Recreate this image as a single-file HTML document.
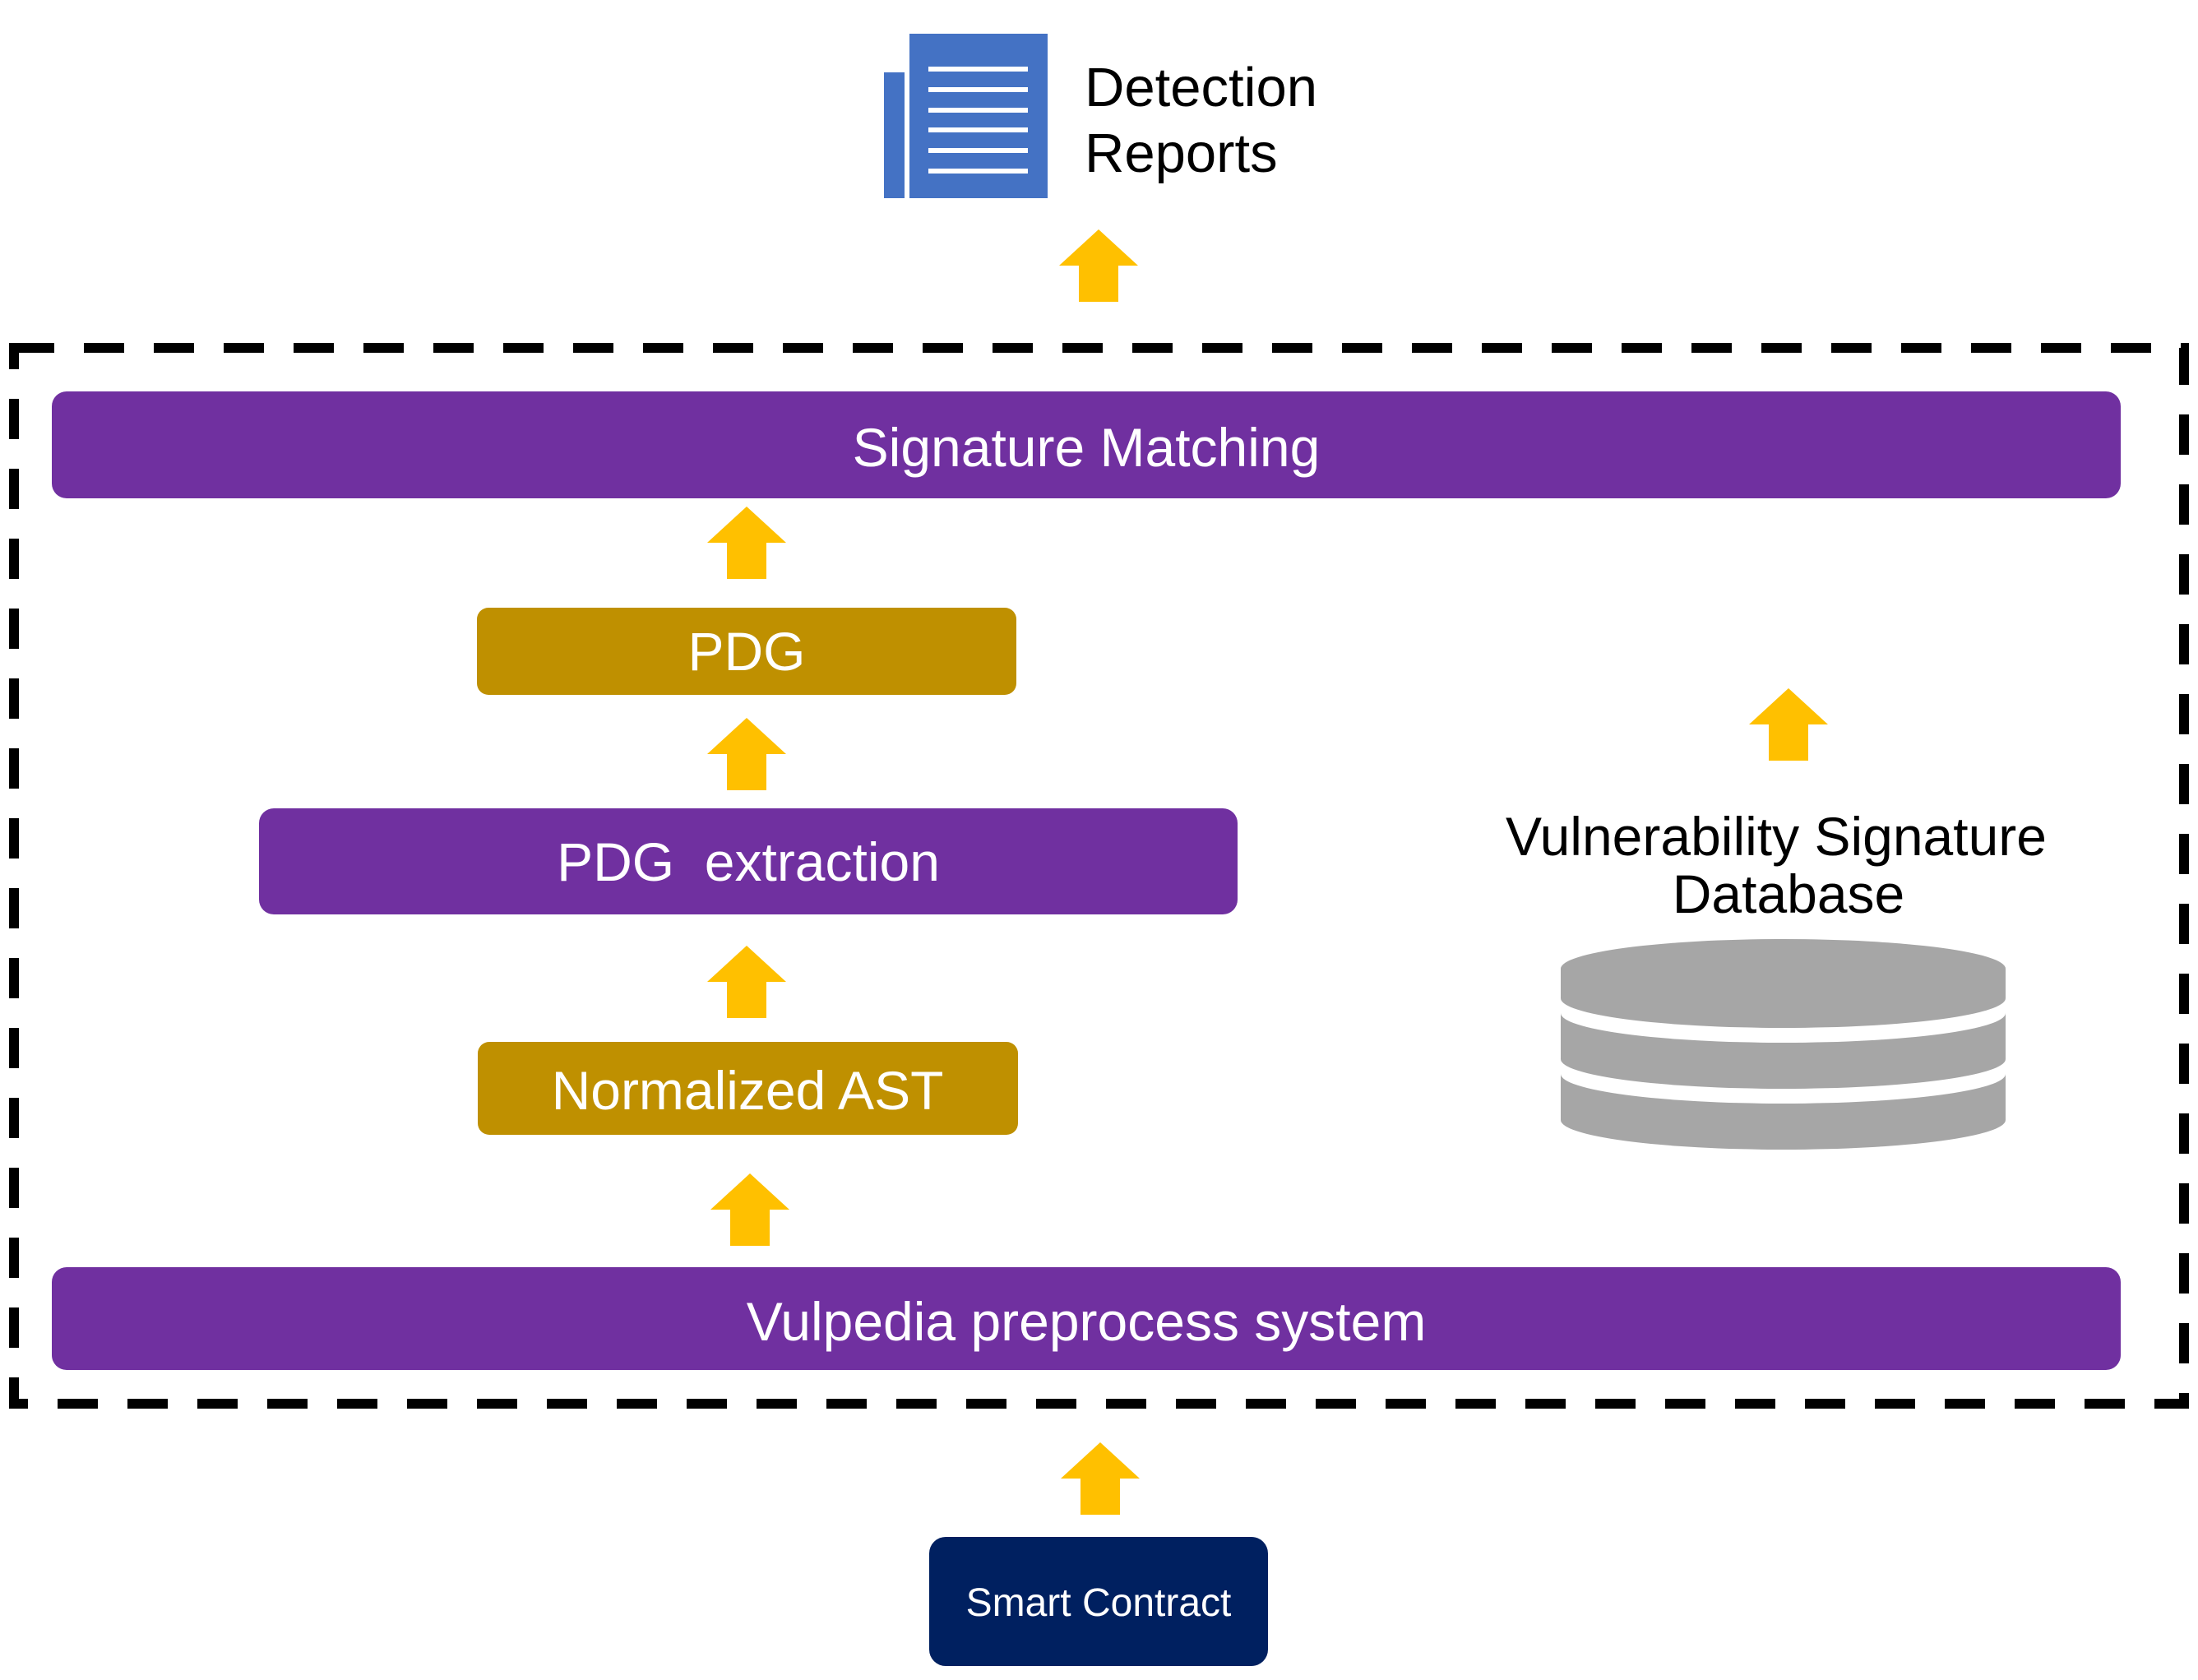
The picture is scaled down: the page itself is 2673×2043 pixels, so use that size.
<!DOCTYPE html>
<html><head><meta charset="utf-8"><style>
html,body{margin:0;padding:0;background:#fff;}
svg{display:block;}
text{font-family:"Liberation Sans",Arial,sans-serif;}
</style></head><body>
<svg width="2673" height="2043" viewBox="0 0 2673 2043" xmlns="http://www.w3.org/2000/svg">
<defs>
<path id="arr" d="M0 0 L48 44 L24 44 L24 88 L-24 88 L-24 44 L-48 44 Z" fill="#ffc000"/>
</defs>
<!-- document icon -->
<rect x="1075" y="88" width="25" height="153" fill="#4472c4"/>
<rect x="1106" y="41" width="168" height="200" fill="#4472c4"/>
<g fill="#fff">
<rect x="1129" y="81" width="121" height="6"/>
<rect x="1129" y="106" width="121" height="6"/>
<rect x="1129" y="131" width="121" height="6"/>
<rect x="1129" y="155" width="121" height="6"/>
<rect x="1129" y="180" width="121" height="6"/>
<rect x="1129" y="205" width="121" height="6"/>
</g>
<text x="1319" y="129" font-size="67" fill="#000">Detection</text>
<text x="1319" y="209" font-size="67" fill="#000">Reports</text>

<!-- dashed box -->
<rect x="17" y="423" width="2639" height="1284" fill="none" stroke="#000" stroke-width="12" stroke-dasharray="49 36"/>

<!-- boxes -->
<rect x="63" y="476" width="2516" height="130" rx="18" fill="#7030a0"/>
<text x="1321" y="567" font-size="66" fill="#fff" text-anchor="middle">Signature Matching</text>

<rect x="580" y="739" width="656" height="106" rx="14" fill="#bf9000"/>
<text x="908" y="815" font-size="66" fill="#fff" text-anchor="middle">PDG</text>

<rect x="315" y="983" width="1190" height="129" rx="18" fill="#7030a0"/>
<text x="910" y="1071" font-size="66" fill="#fff" text-anchor="middle" xml:space="preserve">PDG  extraction</text>

<rect x="581" y="1267" width="657" height="113" rx="14" fill="#bf9000"/>
<text x="909" y="1349" font-size="66" fill="#fff" text-anchor="middle">Normalized AST</text>

<rect x="63" y="1541" width="2516" height="125" rx="18" fill="#7030a0"/>
<text x="1321" y="1630" font-size="66" fill="#fff" text-anchor="middle">Vulpedia preprocess system</text>

<rect x="1130" y="1869" width="412" height="157" rx="20" fill="#002060"/>
<text x="1336" y="1965" font-size="48" fill="#fff" text-anchor="middle">Smart Contract</text>

<!-- database -->
<text x="2160" y="1040" font-size="66" fill="#000" text-anchor="middle">Vulnerability Signature</text>
<text x="2175" y="1110" font-size="66" fill="#000" text-anchor="middle">Database</text>
<g fill="#a6a6a6">
<path d="M1898 1306 A270.5 36 0 0 0 2439 1306 L2439 1362 A270.5 36 0 0 1 1898 1362 Z"/>
<path d="M1898 1232 A270.5 36 0 0 0 2439 1232 L2439 1288 A270.5 36 0 0 1 1898 1288 Z"/>
<path d="M1898 1178 A270.5 36 0 0 1 2439 1178 L2439 1214 A270.5 36 0 0 1 1898 1214 Z"/>
</g>

<!-- arrows -->
<use href="#arr" x="1336" y="279"/>
<use href="#arr" x="908" y="616"/>
<use href="#arr" x="908" y="873"/>
<use href="#arr" x="908" y="1150"/>
<use href="#arr" x="912" y="1427"/>
<use href="#arr" x="2175" y="837"/>
<use href="#arr" x="1338" y="1754"/>
</svg>
</body></html>
